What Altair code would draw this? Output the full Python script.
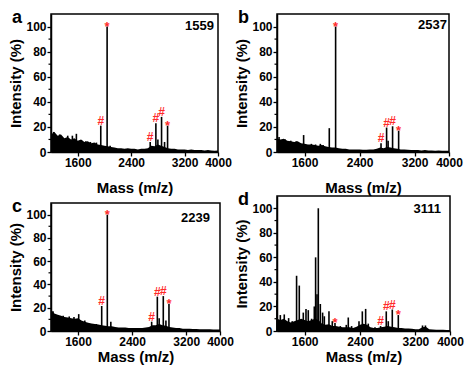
import altair as alt
import pandas as pd

FONT = "Liberation Sans"
RED = "#ff2b2b"

BASE_MASS = list(range(1200, 3701, 50))

# ---- panel a ----
A_BASE = [14, 16, 13, 14, 11, 12, 10, 11, 9, 10,
          8, 8.5, 7, 7.5, 6, 5.5, 5, 4.5, 4, 3.5,
          3, 3, 2.5, 3, 2.5, 2.5, 2, 2.5, 2.5, 3,
          5, 4.5, 6, 5, 4, 3, 2.5, 2.5, 2, 2,
          2, 1.5, 2, 1.5, 1.5, 1.5, 1.2, 1.5, 1.2, 1,
          1.2]
A_PEAK_MASS = [1240, 1330, 1450, 1520, 1580, 1660, 1720, 1790, 1880,
               1945, 2040, 2085, 2685, 2770, 2800, 2855, 2900, 2945]
A_PEAK_INT = [16, 14, 13, 13, 14.5, 9, 8.5, 8, 7.5,
              21, 100, 5, 8, 23, 10, 28, 8, 21]
A_PEAK_MARK = ["", "", "", "", "", "", "", "", "",
               "#", "*", "", "#", "#", "", "#", "", "*"]

# ---- panel b ----
B_BASE = [11, 10, 10.5, 9, 8.5, 8, 8.5, 7, 6.5, 6,
          6, 5.5, 5, 5.5, 4.5, 4, 3.5, 3.5, 3, 2.5,
          2.5, 2, 2, 2, 2, 1.8, 1.8, 2, 2, 2.5,
          3.5, 3, 4, 3.5, 3, 2.5, 2, 2, 1.8, 1.5,
          1.5, 1.5, 1.2, 1.5, 1.2, 1.2, 1, 1.2, 1, 1,
          1]
B_PEAK_MASS = [1230, 1320, 1400, 1480, 1587, 1700, 1760, 1830, 1870,
               1960, 2052, 2712, 2793, 2815, 2880, 2968]
B_PEAK_INT = [12, 10, 9, 8.5, 13.5, 6.5, 6, 6.5, 5.5,
              19, 100, 7, 19.5, 9, 20.5, 17]
B_PEAK_MARK = ["", "", "", "", "", "", "", "", "",
               "", "*", "#", "#", "", "#", "*"]

# ---- panel c ----
C_BASE = [18, 15, 14, 13, 12, 11.5, 11, 10.5, 11, 9,
          8, 7, 6.5, 6, 5.5, 5, 4.5, 4, 4, 3.5,
          3, 3, 3, 2.5, 2.5, 2.5, 2.5, 2.5, 3, 3.5,
          5, 5, 6, 5, 4.5, 3.5, 3, 2.5, 2.5, 2,
          2, 2, 1.8, 1.8, 1.5, 1.5, 1.5, 1.5, 1.2, 1.2,
          1.2]
C_PEAK_MASS = [1230, 1380, 1470, 1540, 1610, 1700, 1870,
               1950, 2033, 2085, 2689, 2773, 2800, 2861, 2900, 2945]
C_PEAK_INT = [17, 13, 12.5, 12, 14.5, 9, 6,
              21.5, 100, 8, 8, 29.5, 11, 30, 9, 23.5]
C_PEAK_MARK = ["", "", "", "", "", "", "",
               "#", "*", "", "#", "#", "", "#", "", "*"]

# ---- panel d ----
D_BASE = [10, 9, 10, 8, 7, 8, 9, 10, 9, 8,
          9, 10, 9, 6, 5, 5.5, 4, 4, 3.5, 3,
          3, 3, 2.5, 3.5, 5, 6, 5, 3, 2.5, 2.5,
          3, 3.5, 4, 3.5, 3, 2.5, 2.5, 2, 2, 1.8,
          1.5, 1.5, 3, 3.5, 1.5, 1.2, 1, 1, 1, 0.8,
          0.8]
D_PEAK_MASS = [1200, 1248, 1305, 1368, 1420, 1483, 1522, 1580, 1619, 1652,
               1700, 1739, 1758, 1778, 1797, 1826, 1859, 1884, 1951, 1999,
               2038, 2115, 2201, 2230, 2278, 2385, 2433, 2481, 2519, 2616,
               2697, 2779, 2808, 2866, 2953, 3303, 3345]
D_PEAK_INT = [25, 13, 13.5, 10.5, 8, 45, 37, 15, 18, 17,
              10, 20, 60, 30, 100, 22, 15, 12, 16, 8,
              6.5, 4, 5, 11, 4, 8, 16, 18, 6, 3,
              4, 16, 8, 17.5, 13, 4.5, 4.5]
D_PEAK_MARK = ["", "", "", "", "", "", "", "", "", "",
               "", "", "", "", "", "", "", "", "", "",
               "*", "", "", "", "", "", "", "", "", "",
               "#", "#", "", "#", "*", "", ""]

X_TICKS = [1600, 2400, 3200, 3700]
Y_TICKS = [0, 20, 40, 60, 80, 100]
Y_MINOR = [10, 30, 50, 70, 90]


def panel(letter, tag, base, pm, pi, pk, w, h, xpad, tag_dx, tag_dy):
    base_df = pd.DataFrame({"mass": BASE_MASS, "inten": base})
    peak_df = pd.DataFrame({"mass": pm, "inten": pi, "mark": pk})
    hash_df = peak_df[peak_df["mark"] == "#"]
    star_df = peak_df[peak_df["mark"] == "*"]

    xs = alt.Scale(domain=[1200, 3700], nice=False, zero=False)
    ys = alt.Scale(domain=[0, 110], nice=False)
    xax = alt.Axis(values=X_TICKS, format="d",
                   labelExpr="datum.value >= 3700 ? '4000' : datum.label",
                   labelFlush=False, labelOverlap=False,
                   title="Mass (m/z)", titlePadding=xpad)
    yax = alt.Axis(values=Y_TICKS, title="Intensity (%)", labelOverlap=False,
                   labelFlush=False)

    X = alt.X("mass:Q", scale=xs, axis=xax)
    Y = alt.Y("inten:Q", scale=ys, axis=yax)

    area = alt.Chart(base_df).mark_area(color="black", interpolate="linear").encode(x=X, y=Y)
    rules = alt.Chart(peak_df).mark_rule(color="black", strokeWidth=1.6).encode(
        x=X, y=Y, y2=alt.datum(0))
    hashes = alt.Chart(hash_df).mark_text(
        color=RED, font=FONT, fontSize=12, fontWeight="bold",
        baseline="alphabetic", dy=-1).encode(x=X, y=Y, text="mark:N")
    stars = alt.Chart(star_df).mark_text(
        color=RED, font=FONT, fontSize=13, fontWeight="bold",
        baseline="alphabetic", dy=4).encode(x=X, y=Y, text="mark:N")
    minor = alt.Chart(pd.DataFrame({"inten": Y_MINOR})).mark_rule(
        color="black", strokeWidth=1.2).encode(
        y=Y, x=alt.value(0), x2=alt.value(-2.5))
    tag_t = alt.Chart(pd.DataFrame({"t": [tag]})).mark_text(
        align="right", baseline="middle", font=FONT, fontSize=13,
        fontWeight="bold", color="black").encode(
        x=alt.value(w - tag_dx), y=alt.value(tag_dy), text="t:N")
    let_t = alt.Chart(pd.DataFrame({"t": [letter]})).mark_text(
        align="left", baseline="alphabetic", font=FONT, fontSize=18,
        fontWeight="bold", color="black").encode(
        x=alt.value(-39), y=alt.value(9), text="t:N")
    return alt.layer(area, rules, minor, hashes, stars, tag_t, let_t).properties(
        width=w, height=h)


pa = panel("a", "1559", A_BASE, A_PEAK_MASS, A_PEAK_INT, A_PEAK_MARK, 167, 138, 12, 4, 12)
pb = panel("b", "2537", B_BASE, B_PEAK_MASS, B_PEAK_INT, B_PEAK_MARK, 172, 138, 12, 2, 11)
pc = panel("c", "2239", C_BASE, C_PEAK_MASS, C_PEAK_INT, C_PEAK_MARK, 169, 128, 2, 10, 15)
pd_ = panel("d", "3111", D_BASE, D_PEAK_MASS, D_PEAK_INT, D_PEAK_MARK, 173, 135, 2, 9, 13)

left = alt.vconcat(pa, pc, spacing=51, bounds="flush")
right = alt.vconcat(pb, pd_, spacing=44, bounds="flush")

chart = alt.hconcat(left, right, spacing=226, bounds="flush").properties(
    padding=0
).configure_view(
    stroke="black", strokeWidth=1.5
).configure_axis(
    domainColor="black", domainWidth=1.5, tickColor="black", tickWidth=1.3,
    tickSize=4, labelFont=FONT, labelFontSize=12, labelFontWeight="bold",
    labelColor="black", labelPadding=1, titleFont=FONT, titleFontSize=15,
    titleFontWeight="bold", titleColor="black", grid=False,
    labelOverlap=False, labelFlush=False
).configure_axisY(titlePadding=2)

chart.save("out.html", embed_options={"renderer": "svg", "actions": False})
